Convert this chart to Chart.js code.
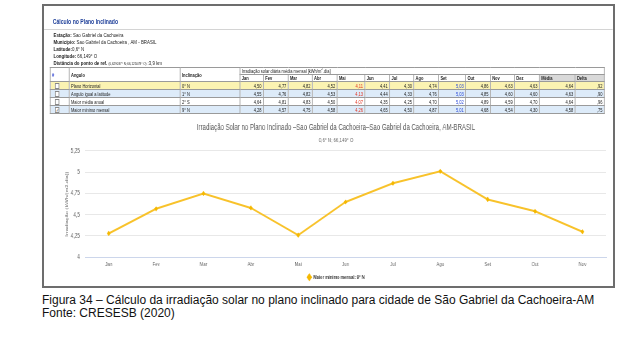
<!DOCTYPE html>
<html><head><meta charset="utf-8">
<script src="https://cdn.jsdelivr.net/npm/chart.js@4"></script>
<style>
html,body{margin:0;padding:0;background:#fff;}
body{width:630px;height:346px;position:relative;overflow:hidden;font-family:'Liberation Sans',Arial,sans-serif;}
#frame{position:absolute;left:42px;top:4px;width:569px;height:280px;border:2px solid #6d6d6d;}
#inner{position:absolute;left:44px;top:0;width:779px;height:292px;transform:scaleX(0.73);transform-origin:0 0;}
#ptitle{position:absolute;left:12px;top:18px;font-size:7px;line-height:8px;font-weight:bold;color:#23439b;white-space:nowrap;}
#rule{position:absolute;left:0;top:29px;width:779px;height:1px;background:#d4d4d4;}
#info{position:absolute;left:13px;top:31.5px;font-size:6px;line-height:7px;color:#222;white-space:nowrap;}
#info .sm{font-size:4px;}
#tbl{position:absolute;left:8px;top:67px;width:760px;border-collapse:collapse;table-layout:fixed;font-size:5.5px;color:#222;}
#tbl td,#tbl th{border:1px solid #9a9a9a;padding:0 2px;overflow:hidden;white-space:nowrap;line-height:6px;}
#tbl th{font-weight:bold;text-align:left;background:#fff;}
#tbl tr.h1{height:6.5px;}
#tbl tr.h2{height:6.5px;}
#tbl tr.d{height:8px;}
#tbl td.v{text-align:right;}
#tbl th.g{background:#d9d9d9;}
.cb{display:inline-block;width:4px;height:4px;border:1px solid #888;background:#fff;vertical-align:middle;margin-left:4px;font-size:5px;line-height:4px;text-align:center;color:#333;}
#cw{position:absolute;left:15px;top:114px;width:764px;height:176px;}
#cap{position:absolute;left:42px;top:293.5px;font-size:12px;line-height:13px;color:#111;white-space:nowrap;}
</style></head>
<body>
<div id="frame"></div>
<div id="inner">
  <div id="ptitle">Cálculo no Plano Inclinado</div>
  <div id="rule"></div>
  <div id="info">
    <b>Estação:</b> Sao Gabriel da Cachoeira<br>
    <b>Município:</b> Sao Gabriel da Cachoeira , AM - BRASIL<br>
    <b>Latitude:</b>0,6° N<br>
    <b>Longitude:</b> 66,149° O<br>
    <b>Distância do ponto de ref.</b> <span class="sm">(0,629037° N; 66,125078° O)</span> :3,9 km
  </div>
  <table id="tbl"></table>
  <div id="cw"><canvas id="c" width="764" height="176"></canvas></div>
</div>
<div id="cap">Figura 34 – Cálculo da irradiação solar no plano inclinado para cidade de São Gabriel da Cachoeira-AM<br>Fonte: CRESESB (2020)</div>
<script>
// ---- chart data ----
const months = ['Jan','Fev','Mar','Abr','Mai','Jun','Jul','Ago','Set','Out','Nov'];
const serieValues = [4.28,4.57,4.75,4.58,4.26,4.65,4.87,5.01,4.68,4.54,4.30];
const serieLabel = 'Maior mínimo mensal: 9° N';
const yTicks = [4,4.25,4.5,4.75,5,5.25];
const chartTitle = 'Irradiação Solar no Plano Inclinado –Sao Gabriel da Cachoeira–Sao Gabriel da Cachoeira, AM-BRASIL';
const chartSubtitle = '0,6° N; 66,149° O';
const yTitle = 'Irradiação (kWh/(m2.dia))';

// ---- table data ----
const tableMonths = ['Jan','Fev','Mar','Abr','Mai','Jun','Jul','Ago','Set','Out','Nov','Dez'];
const rowNames = ['Plano Horizontal','Angulo igual a latitude','Maior média anual','Maior mínimo mensal'];
const rowTilts = ['0° N','1° N','2° S','9° N'];
const rowPlanoHorizontal = ['4,50','4,77','4,82','4,52','4,11','4,41','4,30','4,74','5,03','4,86','4,63','4,63'];
const rowIgualLatitude   = ['4,55','4,76','4,82','4,53','4,13','4,44','4,33','4,76','5,03','4,85','4,60','4,60'];
const rowMaiorMedia      = ['4,64','4,81','4,83','4,50','4,07','4,35','4,25','4,70','5,02','4,89','4,59','4,70'];
const rowMaiorMinimo     = ['4,28','4,57','4,75','4,58','4,26','4,65','4,50','4,87','5,01','4,68','4,54','4,30'];
const rowMedia = ['4,64','4,63','4,64','4,58'];
const rowDelta = [',92',',90',',96',',75'];
const rowChecked = [false,false,false,true];

// build table
(function(){
  const rows = [rowPlanoHorizontal,rowIgualLatitude,rowMaiorMedia,rowMaiorMinimo];
  const bgs = ['#fbf3b2','#ddebf9','#ffffff','#ddebf9'];
  const widths = [26,152,82,32,34,33,34,38,34,33,34,37,34,33,34,49,40];
  let h = '<colgroup>' + widths.map(w=>'<col style="width:'+w+'px">').join('') + '</colgroup>';
  h += '<tr class="h1"><th rowspan="2" style="color:#2b3fd0">#</th><th rowspan="2">Angulo</th><th rowspan="2">Inclinação</th>' +
       '<th colspan="14" style="font-weight:normal;text-decoration:underline">Irradiação solar diária média mensal [kWh/m<sup style="font-size:4px;line-height:0">2</sup>.dia]</th></tr>';
  h += '<tr class="h2">' + tableMonths.map(m=>'<th>'+m+'</th>').join('') + '<th class="g">Média</th><th class="g">Delta</th></tr>';
  rows.forEach((r,i)=>{
    h += '<tr class="d" style="background:'+bgs[i]+'">';
    h += '<td><span class="cb">'+(rowChecked[i]?'✓':'')+'</span></td>';
    h += '<td>'+rowNames[i]+'</td><td>'+rowTilts[i]+'</td>';
    r.forEach((v,j)=>{
      let st = '';
      if (j===4) st = ' style="color:#e0301e"';
      if (j===8) st = ' style="color:#2645d6"';
      h += '<td class="v"'+st+'>'+v+'</td>';
    });
    h += '<td class="v">'+rowMedia[i]+'</td><td class="v">'+rowDelta[i]+'</td></tr>';
  });
  document.getElementById('tbl').innerHTML = h;
})();

Chart.defaults.font.family = "'Liberation Sans', Arial, sans-serif";
const lineColor = '#f8c22a';
new Chart(document.getElementById('c'), {
  type: 'line',
  data: {
    labels: months,
    datasets: [{
      label: serieLabel,
      data: serieValues,
      borderColor: lineColor,
      backgroundColor: '#f5b800',
      borderWidth: 2,
      pointStyle: 'rectRot',
      pointRadius: 2.6,
      pointBorderWidth: 0,
      pointBackgroundColor: '#f5b800',
      tension: 0,
      fill: false
    }]
  },
  options: {
    responsive: false,
    animation: false,
    layout: {padding: {left: 15, right: 9, top: 0, bottom: 0}},
    plugins: {
      title: {display: true, text: chartTitle, color: '#555', font: {size: 8.3, weight: 'normal'}, padding: {top: 9, bottom: 0}},
      subtitle: {display: true, text: chartSubtitle, color: '#666', font: {size: 6}, padding: {top: 3.4, bottom: 7.4}},
      legend: {position: 'bottom', labels: {usePointStyle: true, boxWidth: 5.5, boxHeight: 5.5, color: '#333', font: {size: 5.5, weight: 'bold'}, padding: 5.25}},
      tooltip: {enabled: false}
    },
    scales: {
      x: {
        offset: true,
        grid: {display: false, drawTicks: false, offset: true},
        border: {display: true, color: '#ccd6eb', width: 1},
        ticks: {color: '#666', font: {size: 6}, padding: 3, maxRotation: 0, autoSkip: false},
        afterFit(s){ s.height = 12; }
      },
      y: {
        min: 4, max: 5.25,
        afterBuildTicks(s){ s.ticks = yTicks.map(v=>({value:v})); },
        ticks: {color: '#666', font: {size: 6.5}, padding: 7, callback: v => String(v).replace('.', ',')},
        grid: {drawTicks: false, color: c => (c.tick && c.tick.value === 4) ? '#ccd6eb' : '#e8e8e8', lineWidth: 1},
        border: {display: false},
        title: {display: true, text: yTitle, color: '#666', font: {size: 5.75}, padding: {top: -2, bottom: 0}},
        afterFit(s){ s.width = 26.2; }
      }
    }
  }
});
</script>
</body></html>
